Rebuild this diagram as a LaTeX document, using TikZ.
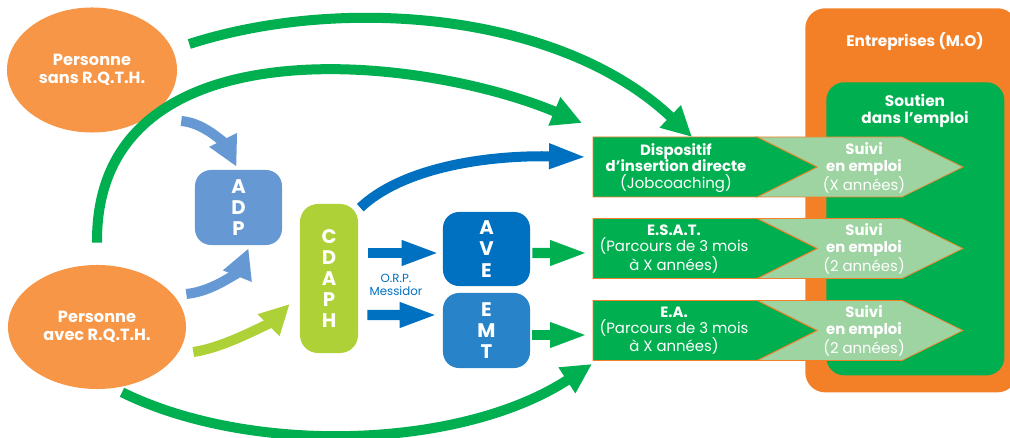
\documentclass[tikz,border=0pt]{standalone}
\usepackage{fontspec}
\setmainfont{Poppins}
\usetikzlibrary{shapes.geometric,arrows.meta}

\definecolor{persorange}{HTML}{F79646}
\definecolor{entrorange}{HTML}{F37F27}
\definecolor{vertfonce}{HTML}{00B050}
\definecolor{vertclair}{HTML}{9ED3A2}
\definecolor{bleuadp}{HTML}{6699D3}
\definecolor{bleuave}{HTML}{0070C0}
\definecolor{bleuemt}{HTML}{2983C8}
\definecolor{vertcdaph}{HTML}{ADD136}

\tikzset{
  personne/.style={ellipse,fill=persorange,text=white,align=center,inner sep=0pt,
    font=\bfseries\fontsize{11.5}{13}\selectfont},
  sigle/.style={rounded corners=0.4cm,text=white,align=center,inner sep=0pt,
    font=\bfseries\fontsize{14}{15}\selectfont},
  rowtxt/.style={text=white,align=center,inner sep=0pt,
    font=\fontsize{10.6}{11.5}\selectfont},
  boxtxt/.style={text=white,align=center,inner sep=0pt,
    font=\bfseries\fontsize{10.9}{11.8}\selectfont},
  bigarrow/.style={line width=0.25cm,-{Triangle[length=0.75cm,width=0.72cm]}},
  longarrow/.style={line width=0.25cm,-{Triangle[length=0.95cm,width=0.57cm]}}
}

\begin{document}
\begin{tikzpicture}[x=0.025cm,y=-0.025cm]
  \useasboundingbox (0,0) rectangle (1010,438);

  % entreprises
  \node[fill=entrorange,rounded corners=0.5cm,anchor=north west,
    minimum width=5.3cm,minimum height=9.6cm] (entr) at (805,8) {};
  \node[boxtxt] (entrlbl) at (915,42) {Entreprises (M.O)};
  \node[fill=vertfonce,rounded corners=0.45cm,anchor=north west,
    minimum width=4.45cm,minimum height=7.325cm] (soutien) at (826,82) {};
  \node[boxtxt] (soutienlbl) at (915,111) {Soutien\\dans l’emploi};

  % parcours
  \foreach \m/\i in {167/1,248.5/2,330.5/3} {
    \filldraw[fill=vertclair,draw=entrorange,line width=0.5pt]
      (757,\m-30) -- (902,\m-30) -- (963,\m) -- (902,\m+30) -- (757,\m+30) -- (817,\m) -- cycle;
    \filldraw[fill=vertfonce,draw=entrorange,line width=0.5pt]
      (593,\m-30) -- (757,\m-30) -- (817,\m) -- (757,\m+30) -- (593,\m+30) -- cycle;
    \coordinate (roww\i) at (593,\m);
    \coordinate (rown\i) at (700,\m-30);
  }
  \node[rowtxt] (dispo) at (676,168) {\textbf{Dispositif}\\\textbf{d’insertion directe}\\(Jobcoaching)};
  \node[rowtxt] (esat) at (674,249) {\textbf{E.S.A.T.}\\(Parcours de 3 mois\\à X années)};
  \node[rowtxt] (ea) at (674,331) {\textbf{E.A.}\\(Parcours de 3 mois\\à X années)};
  \node[rowtxt] (suivi1) at (864,168) {\textbf{Suivi}\\\textbf{en emploi}\\(X années)};
  \node[rowtxt] (suivi2) at (864,249) {\textbf{Suivi}\\\textbf{en emploi}\\(2 années)};
  \node[rowtxt] (suivi3) at (864,331) {\textbf{Suivi}\\\textbf{en emploi}\\(2 années)};

  % personnes
  \node[personne,minimum width=4.25cm,minimum height=3.125cm] (sans) at (92,70) {Personne\\sans R.Q.T.H.};
  \node[personne,minimum width=4.45cm,minimum height=3.1cm] (avec) at (97,327) {Personne\\avec R.Q.T.H.};

  % organismes
  \node[sigle,fill=bleuadp,minimum width=2.175cm,minimum height=1.875cm] (adp) at (238.5,207.5) {A\\D\\P};
  \node[sigle,fill=vertcdaph,rounded corners=0.45cm,minimum width=1.45cm,minimum height=3.725cm] (cdaph) at (329,278.5) {C\\D\\A\\P\\H};
  \node[sigle,fill=bleuave,minimum width=2.175cm,minimum height=1.85cm] (ave) at (486.5,249) {A\\V\\E};
  \node[sigle,fill=bleuemt,minimum width=2.175cm,minimum height=1.875cm] (emt) at (486.5,330.5) {E\\M\\T};
  \node[text=bleuave,align=center,inner sep=0pt,font=\fontsize{8.4}{9}\selectfont] (orp) at (396,285) {O.R.P.\\Messidor};

  % fleches
  \draw[bigarrow,vertfonce] ([shift={(12,-26)}]sans.east) .. controls +(152,-49) and +(-132,-125) .. ([shift={(-8,0)}]rown1);
  \draw[bigarrow,vertfonce] ([shift={(0,-22)}]avec.north) .. controls +(-2,-223) and +(-162,-68) .. ([shift={(-11,-44)}]roww1);
  \draw[bigarrow,vertfonce] ([shift={(25,3)}]avec.south) .. controls +(128,63) and +(-132,86) .. ([shift={(-1,33.5)}]roww3);
  \draw[bigarrow,bleuadp] ([shift={(4,51)}]sans.east) .. controls +(25,2) and +(-10,-20) .. ([shift={(-2,-3)}]adp.north);
  \draw[bigarrow,bleuadp] ([shift={(0,-33)}]avec.east) .. controls +(30,-3) and +(-8,20) .. ([shift={(10,3)}]adp.south);
  \draw[bigarrow,vertcdaph] ([shift={(7,25)}]avec.east) .. controls +(35,-5) and +(-15,15) .. ([shift={(-10,25.5)}]cdaph.west);
  \draw[longarrow,bleuave] ([shift={(2,4)}]cdaph.north east) .. controls +(40,-38) and +(-107,-2) .. ([shift={(-6,-10)}]roww1);
  \draw[longarrow,bleuave] ([shift={(10,-25.5)}]cdaph.east) -- ([shift={(-3,4)}]ave.west);
  \draw[longarrow,bleuave] ([shift={(9,36.5)}]cdaph.east) -- ([shift={(-5,-15.5)}]emt.west);
  \draw[longarrow,vertfonce] ([shift={(2,4)}]ave.east) -- ([shift={(-5,4.5)}]roww2);
  \draw[longarrow,vertfonce] ([shift={(2,4.5)}]emt.east) -- ([shift={(-5,4.5)}]roww3);
\end{tikzpicture}
\end{document}
